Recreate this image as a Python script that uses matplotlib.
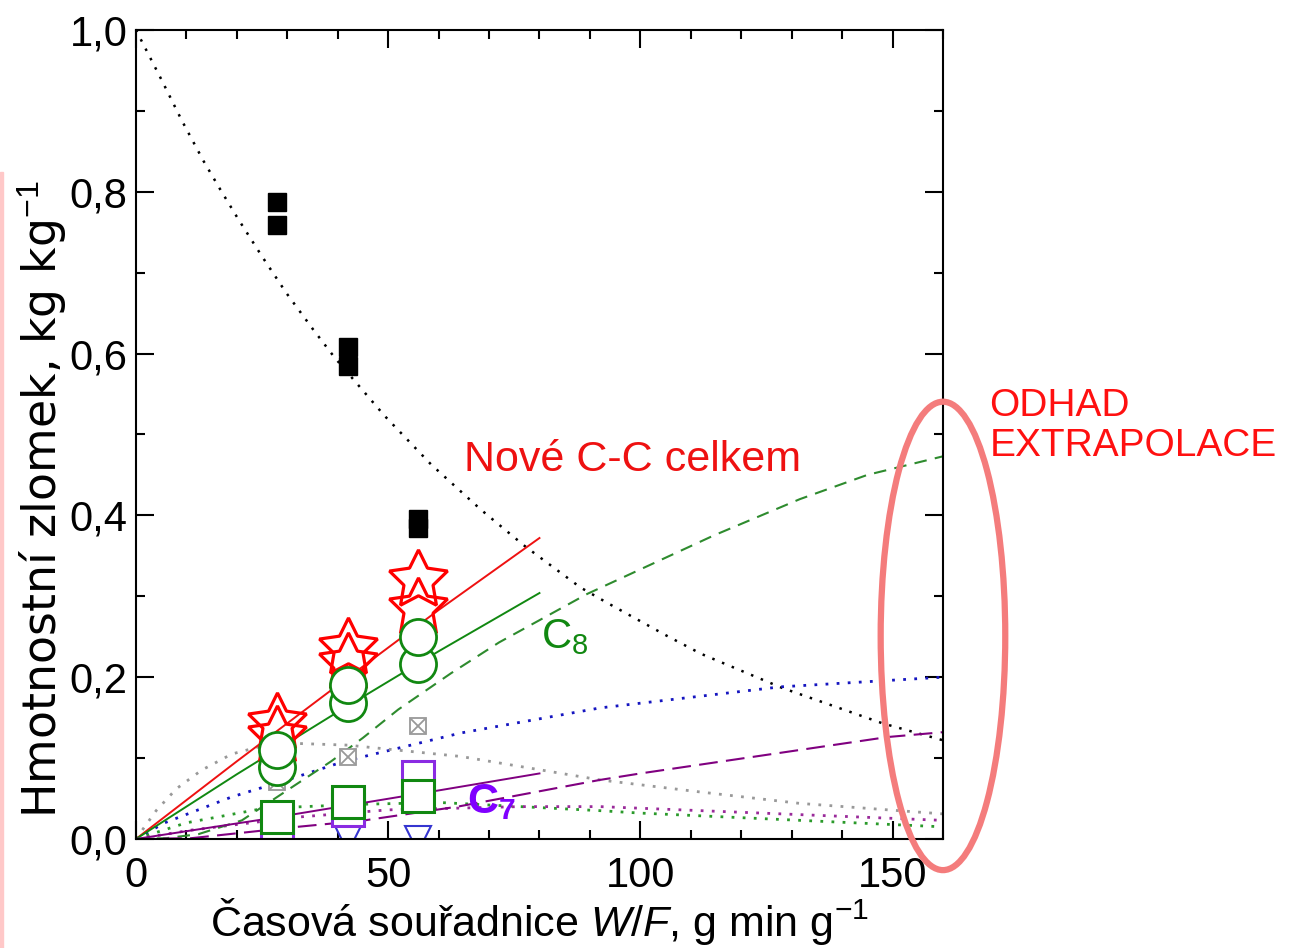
import numpy as np
import matplotlib
matplotlib.use('Agg')
import matplotlib.pyplot as plt
from matplotlib.patches import Ellipse, Rectangle
from matplotlib.ticker import MultipleLocator, FuncFormatter

plt.rcParams['font.family'] = ['Liberation Sans', 'DejaVu Sans']
plt.rcParams['mathtext.fontset'] = 'custom'
plt.rcParams['mathtext.rm'] = 'Liberation Sans'
plt.rcParams['mathtext.it'] = 'Liberation Sans:italic'
plt.rcParams['mathtext.bf'] = 'Liberation Sans:bold'

# measured points, W/F in g min g-1
wf = [28, 42, 56]
feed_hi = [0.787, 0.608, 0.396]   # black squares
feed_lo = [0.759, 0.585, 0.384]
cc_hi = [0.143, 0.236, 0.320]     # red stars, new C-C total
cc_lo = [0.127, 0.218, 0.286]
c8_hi = [0.110, 0.190, 0.250]     # green circles
c8_lo = [0.089, 0.168, 0.216]
gray_x = [0.070, 0.101, 0.140]    # grey boxed crosses
sq_green = [0.027, 0.046, 0.053]  # green squares
sq_violet = [0.020, 0.036, 0.077] # violet squares
tri_blue = [0.0, 0.0, 0.0]        # blue triangles

# model curves
feed_x = [0, 5.1, 9.1, 13.4, 16.7, 20.3, 24.9, 29.8, 35.1, 39.4, 49.3, 58.5,
          68.4, 77.1, 88.1, 93.4, 105, 112, 128, 148, 160]
feed_y = [1.0, 0.938, 0.888, 0.838, 0.803, 0.766, 0.721, 0.675, 0.630, 0.595,
          0.523, 0.463, 0.407, 0.362, 0.311, 0.292, 0.252, 0.229, 0.187, 0.143, 0.122]

cc_fit_x = [0, 20, 40, 60, 80]
cc_fit_y = [0, 0.096, 0.190, 0.283, 0.372]
c8_fit_x = [0, 20, 40, 60, 80]
c8_fit_y = [0, 0.080, 0.157, 0.232, 0.304]
c7_fit_x = [0, 25, 60, 80]
c7_fit_y = [0, 0.024, 0.060, 0.081]

c8_ext_x = [0, 6, 12.4, 21, 30.2, 38.7, 45, 52, 62.5, 72, 89.5, 114.5, 131.6, 145, 160]
c8_ext_y = [0, 0.001, 0.006, 0.023, 0.061, 0.096, 0.125, 0.160, 0.205, 0.243,
            0.303, 0.375, 0.420, 0.450, 0.473]
c7_ext_x = [0, 11, 32, 45.3, 63.8, 92, 100, 149, 160]
c7_ext_y = [0, 0.001, 0.015, 0.023, 0.040, 0.073, 0.081, 0.126, 0.132]
blue_x = [0, 5.7, 19, 32, 41.3, 64.4, 92, 127.7, 160]
blue_y = [0, 0.020, 0.052, 0.077, 0.096, 0.131, 0.162, 0.188, 0.200]
gray_cx = [0, 4, 8, 13, 19, 27.5, 42, 64.4, 92, 112, 131.6, 160]
gray_cy = [0, 0.035, 0.062, 0.085, 0.105, 0.119, 0.116, 0.102, 0.073, 0.058, 0.044, 0.031]
gdot_x = [0, 10, 25.5, 45.3, 60.5, 92, 100, 160]
gdot_y = [0, 0.020, 0.038, 0.043, 0.045, 0.035, 0.032, 0.015]
vdot_x = [0, 11, 32, 50, 76, 92, 100, 160]
vdot_y = [0, 0.011, 0.027, 0.036, 0.040, 0.040, 0.038, 0.023]

xticks = [0, 50, 100, 150]

fig = plt.figure(figsize=(12.96, 9.48), dpi=100)
ax = fig.add_axes([0.1049, 0.1150, 0.6227, 0.8534])

# curves
ax.plot(feed_x, feed_y, color='black', lw=1.8, ls=(0, (1, 3.2)))
ax.plot(blue_x, blue_y, color='#1515c0', lw=2, ls=(0, (1, 3)))
ax.plot(gray_cx, gray_cy, color='#999999', lw=2, ls=(0, (1, 3)))
ax.plot(gdot_x, gdot_y, color='#2a9a2a', lw=2, ls=(0, (1, 3)))
ax.plot(vdot_x, vdot_y, color='#9a2a9a', lw=2, ls=(0, (1, 3)))
ax.plot(c8_ext_x, c8_ext_y, color='#2e8b2e', lw=1.5, ls=(0, (6, 4)))
ax.plot(c7_ext_x, c7_ext_y, color='#800080', lw=1.5, ls=(0, (9, 4)))
ax.plot(cc_fit_x, cc_fit_y, color='#ee1111', lw=1.4)
ax.plot(c8_fit_x, c8_fit_y, color='#118811', lw=1.4)
ax.plot(c7_fit_x, c7_fit_y, color='#800080', lw=1.4)

# measured points
star = (5, 1, 0)
ax.plot(wf, tri_blue, 'v', ms=19, mfc='white', mec='#3535d0', mew=1.5)
ax.plot(wf, feed_hi, 's', ms=13, color='black')
ax.plot(wf, feed_lo, 's', ms=13, color='black')
ax.plot(wf, gray_x, 's', ms=12, mfc='white', mec='#999999', mew=1.3)
ax.plot(wf, gray_x, 'x', ms=10, mec='#999999', mew=1.3)
ax.plot(wf, sq_violet, 's', ms=23, mfc='white', mec='#8a2be2', mew=2.2)
ax.plot(wf, sq_green, 's', ms=23, mfc='white', mec='#118811', mew=2.2)
ax.plot(wf, cc_lo, marker=star, ls='none', ms=44, mfc='none', mec='#ff0000', mew=2.3)
ax.plot(wf, cc_hi, marker=star, ls='none', ms=44, mfc='none', mec='#ff0000', mew=2.3)
ax.plot(wf, c8_lo, 'o', ms=26, mfc='white', mec='#118811', mew=2.0)
ax.plot(wf, c8_hi, 'o', ms=26, mfc='white', mec='#118811', mew=2.0)

ax.set_xlim(0, 160)
ax.set_ylim(0, 1.0)
ax.set_xticks(xticks)
ax.xaxis.set_minor_locator(MultipleLocator(10))
ax.yaxis.set_major_locator(MultipleLocator(0.2))
ax.yaxis.set_minor_locator(MultipleLocator(0.1))
ax.yaxis.set_major_formatter(FuncFormatter(lambda v, p: f'{v:.1f}'.replace('.', ',')))
ax.tick_params(which='both', direction='in', top=True, right=True, width=1.5,
               labelsize=30, colors='black')
ax.tick_params(which='major', length=13)
ax.tick_params(axis='x', which='major', pad=12)
ax.tick_params(axis='y', which='major', pad=6)
ax.tick_params(which='minor', length=6.5)
for s in ax.spines.values():
    s.set_linewidth(1.5)

ax.set_xlabel(r'Časová souřadnice $\mathit{W/F}$, g min g$^{-1}$', fontsize=31, labelpad=0)
ax.set_ylabel(r'Hmotnostní zlomek, kg kg$^{-1}$', fontsize=33, family=['DejaVu Sans'])
ax.yaxis.set_label_coords(-0.083, 0.42)

ax.text(98.4, 0.469, 'Nové C-C celkem', color='#ee1111', fontsize=31, ha='center', va='center')
ax.text(85, 0.25, r'C$_8$', color='#118811', fontsize=30, ha='center', va='center')
ax.text(70.5, 0.045, r'$\mathbf{C_7}$', color='#8000ff', fontsize=31, ha='center', va='center')
ax.text(169.2, 0.558, 'ODHAD\nEXTRAPOLACE', color='#ff1010', fontsize=28,
        ha='left', va='top', linespacing=1.15, clip_on=False)

ax.add_patch(Ellipse((160, 0.251), 24.7, 0.579, fill=False, ec='#f47c7c', lw=4.5,
                     clip_on=False, zorder=5))

fig.patches.append(Rectangle((0, 0), 3 / 1296, (948 - 172) / 948, transform=fig.transFigure,
                             color='#ffc8c8', zorder=0))

fig.savefig('out.png', dpi=100)
